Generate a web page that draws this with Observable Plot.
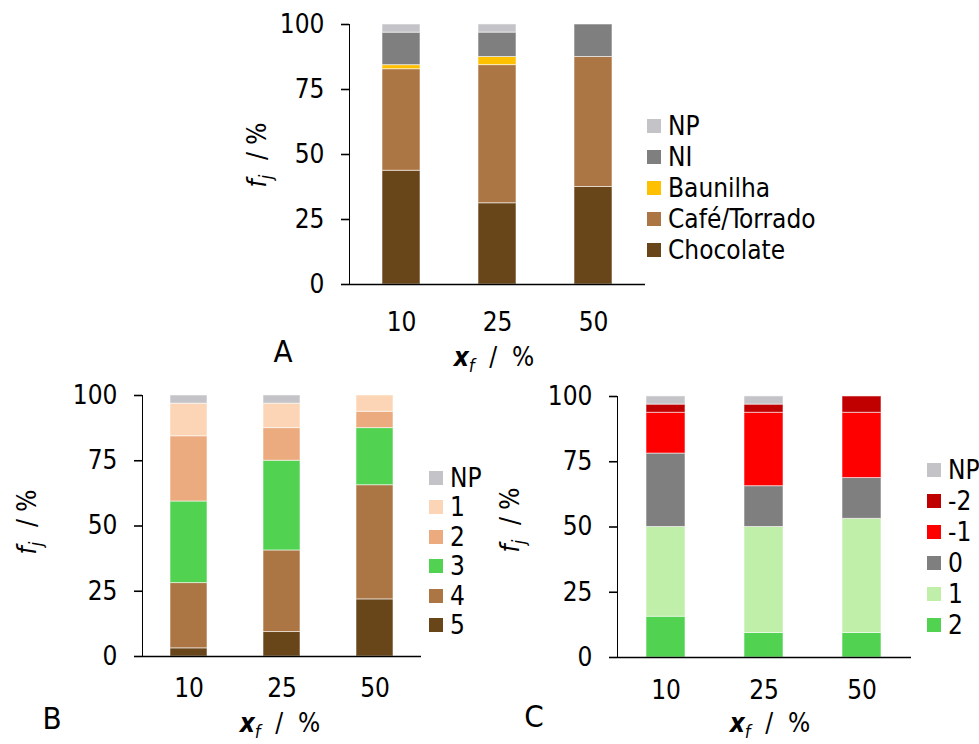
<!DOCTYPE html>
<html>
<head>
<meta charset="utf-8">
<script src="https://cdn.jsdelivr.net/npm/d3@7"></script>
<script src="https://cdn.jsdelivr.net/npm/@observablehq/plot@0.6"></script>
<style>
  html, body { margin: 0; padding: 0; background: #fff; }
  #root { position: relative; width: 979px; height: 744px; overflow: hidden;
          font-family: "DejaVu Sans Condensed", "DejaVu Sans", sans-serif; font-stretch: condensed; color: #000; }
  .panel { position: absolute; }
  .panel svg { overflow: visible; }
  .panel g[aria-label="y-axis tick"] path, .panel g[aria-label="y-axis line"] line { stroke-width: 1.6; }
  .lbl { position: absolute; white-space: nowrap; font-size: 26px; line-height: 1; }
  .ylab { transform: translate(-50%, -50%) rotate(-90deg); }
  .xlab { transform: translate(-50%, -50%); }
  .letter { position: absolute; font-size: 31px; line-height: 1; transform: translate(-50%, -50%); }
  .legend { position: absolute; font-size: 26px; }
  .legend .row { position: absolute; left: 0; display: flex; align-items: center; white-space: nowrap; transform: translateY(-50%); }
  .legend .sw { width: 14px; height: 14px; margin-right: 7px; flex: none; }
  i sub { font-size: 0.7em; line-height: 0; }
</style>
</head>
<body>
<div id="root"></div>
<script>
// ---------- data ----------
const xf = ["10", "25", "50"];
const yTicks = [0, 25, 50, 75, 100];

// Panel A (bottom -> top of stack)
const seriesA = ["Chocolate", "Café/Torrado", "Baunilha", "NI", "NP"];
const colorsA = ["#694619", "#AB7644", "#FFC000", "#7F7F7F", "#C4C4C8"];
const chocolateA = [43.75, 31.25, 37.5];
const cafeA      = [39.06, 53.13, 50.0];
const baunilhaA  = [1.56, 3.13, 0];
const niA        = [12.5, 9.38, 12.5];
const npA        = [3.13, 3.13, 0];

// Panel B
const seriesB = ["5", "4", "3", "2", "1", "NP"];
const colorsB = ["#694619", "#AB7644", "#51D351", "#EBAB7F", "#FBD5B5", "#C4C4C8"];
const b5  = [3.13, 9.38, 21.88];
const b4  = [25.0, 31.25, 43.75];
const b3  = [31.25, 34.38, 21.88];
const b2  = [25.0, 12.5, 6.25];
const b1  = [12.5, 9.38, 6.25];
const bNP = [3.13, 3.13, 0];

// Panel C
const seriesC = ["2", "1", "0", "-1", "-2", "NP"];
const colorsC = ["#51D351", "#BFEFA8", "#7F7F7F", "#FF0000", "#C00000", "#C4C4C8"];
const c2  = [15.63, 9.38, 9.38];
const c1  = [34.38, 40.63, 43.75];
const c0  = [28.13, 15.63, 15.63];
const cm1 = [15.63, 28.13, 25.0];
const cm2 = [3.13, 3.13, 6.25];
const cNP = [3.13, 3.13, 0];

// ---------- helpers ----------
function tidy(series, values) {
  const rows = [];
  xf.forEach((x, i) => series.forEach((s, k) => rows.push({x, s, v: values[k][i]})));
  return rows;
}
const root = document.getElementById("root");
const FONT = '"DejaVu Sans Condensed", "DejaVu Sans", sans-serif';

function panel(cfg) {
  const data = tidy(cfg.series, cfg.values);
  const chart = Plot.plot({
    width: cfg.width, height: cfg.height,
    marginLeft: cfg.ml, marginRight: cfg.mr, marginTop: cfg.mt, marginBottom: cfg.mb,
    style: {fontSize: "26px", fontFamily: FONT, color: "#000", background: "transparent", overflow: "visible"},
    x: {domain: xf, label: null, tickSize: 0, tickPadding: cfg.xpad, paddingInner: cfg.pi, paddingOuter: cfg.po},
    y: {domain: [0, 100], ticks: yTicks, label: null, tickSize: 8, tickPadding: 17, line: true},
    color: {domain: cfg.series, range: cfg.colors},
    marks: [
      Plot.barY(data, {x: "x", y: "v", fill: "s", order: cfg.series, stroke: "#fff", strokeOpacity: 0.55, strokeWidth: 1}),
      Plot.ruleY([0], {stroke: "#000", strokeWidth: 1.6})
    ]
  });
  const div = document.createElement("div");
  div.className = "panel";
  div.style.left = cfg.left + "px";
  div.style.top = cfg.top + "px";
  div.appendChild(chart);
  root.appendChild(div);

  // legend (top row = last series)
  const leg = document.createElement("div");
  leg.className = "legend";
  leg.style.left = cfg.legX + "px";
  leg.style.top = "0px";
  const rev = cfg.series.map((s, i) => [s, cfg.colors[i]]).reverse();
  rev.forEach(([s, c], i) => {
    const row = document.createElement("div");
    row.className = "row";
    row.style.top = (cfg.legY + i * cfg.legStep) + "px";
    const sw = document.createElement("span");
    sw.className = "sw"; sw.style.background = c;
    const t = document.createElement("span");
    t.textContent = s;
    row.appendChild(sw); row.appendChild(t);
    leg.appendChild(row);
  });
  root.appendChild(leg);

  const yl = document.createElement("div");
  yl.className = "lbl ylab";
  yl.style.left = cfg.ylx + "px"; yl.style.top = cfg.yly + "px";
  yl.innerHTML = "<i>f<sub>j</sub></i>&nbsp;&nbsp;/&nbsp;%";
  root.appendChild(yl);

  const xl = document.createElement("div");
  xl.className = "lbl xlab";
  xl.style.left = cfg.xlx + "px"; xl.style.top = cfg.xly + "px";
  xl.innerHTML = "<i><b>x</b><sub>f</sub></i>&nbsp;&nbsp;/&nbsp;&nbsp;%";
  root.appendChild(xl);

  const L = document.createElement("div");
  L.className = "letter";
  L.style.left = cfg.lx + "px"; L.style.top = cfg.ly + "px";
  L.textContent = cfg.letter;
  root.appendChild(L);
}

panel({
  series: seriesA, colors: colorsA, values: [chocolateA, cafeA, baunilhaA, niA, npA],
  left: 240, top: 0, width: 420, height: 344, ml: 109, mr: 15, mt: 24, mb: 60,
  xpad: 28, pi: 0.608, po: 0.33,
  legX: 647, legY: 126, legStep: 31,
  ylx: 257, yly: 155, xlx: 494, xly: 357, lx: 283, ly: 351, letter: "A"
});
panel({
  series: seriesB, colors: colorsB, values: [b5, b4, b3, b2, b1, bNP],
  left: 0, top: 370, width: 430, height: 346, ml: 142, mr: 9, mt: 25, mb: 60,
  xpad: 22, pi: 0.599, po: 0.291,
  legX: 429, legY: 478, legStep: 29.4,
  ylx: 27, yly: 522, xlx: 280, xly: 723, lx: 52, ly: 718, letter: "B"
});
panel({
  series: seriesC, colors: colorsC, values: [c2, c1, c0, cm1, cm2, cNP],
  left: 480, top: 370, width: 440, height: 347, ml: 137, mr: 9, mt: 26, mb: 60,
  xpad: 23, pi: 0.602, po: 0.301,
  legX: 927, legY: 470, legStep: 31,
  ylx: 510, yly: 520, xlx: 770, xly: 723, lx: 534, ly: 716, letter: "C"
});
</script>
</body>
</html>
